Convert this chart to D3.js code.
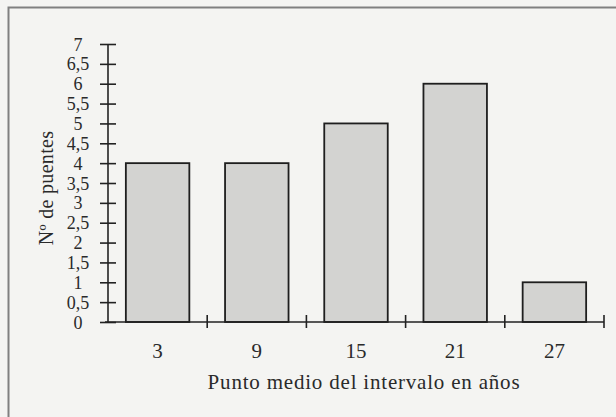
<!DOCTYPE html>
<html><head><meta charset="utf-8">
<script src="https://cdn.jsdelivr.net/npm/d3@7"></script>
<style>
html,body{margin:0;padding:0;background:#f4f4f2;}
svg{display:block;}
text{font-family:"Liberation Serif","DejaVu Serif",serif;fill:#2a2a2a;}
</style></head>
<body>
<svg id="c" width="616" height="417"></svg>
<script>
const categories = ["3","9","15","21","27"];
const values = [4,4,5,6,1];
const yTicks = [0,0.5,1,1.5,2,2.5,3,3.5,4,4.5,5,5.5,6,6.5,7];
const xTitle = "Punto medio del intervalo en años";
const yTitle = "Nº de puentes";

const svg = d3.select("#c");
// frame
svg.append("path").attr("d","M8.5,417 L8.5,7.5 L616,7.5")
  .attr("fill","none").attr("stroke","#808080").attr("stroke-width",2);

const x = d3.scaleBand().domain(categories).range([108,604]).paddingInner(0.36).paddingOuter(0.18);
const y = d3.scaleLinear().domain([0,7]).range([322,44]);

// bars
svg.selectAll("rect.bar").data(values).enter().append("rect")
  .attr("class","bar")
  .attr("x",(d,i)=>x(categories[i]))
  .attr("width",x.bandwidth())
  .attr("y",d=>y(d))
  .attr("height",d=>y(0)-y(d))
  .attr("fill","#d3d3d1").attr("stroke","#1e1e1e").attr("stroke-width",1.8);

// y axis
const fmt = d=>String(d).replace(".",",");
const ya = svg.append("g").attr("transform","translate(108,0)")
  .call(d3.axisLeft(y).tickValues(yTicks).tickFormat(fmt).tickSize(8).tickPadding(5));
ya.select(".domain").attr("stroke","#222").attr("stroke-width",1.6).attr("d","M0,"+y(7)+"V"+(y(0)+1));
ya.selectAll(".tick line").attr("x1",8).attr("stroke","#222").attr("stroke-width",1.6);
ya.selectAll(".tick text").attr("font-size",18).attr("font-family","Liberation Serif")
  .attr("fill","#2a2a2a").attr("dy","0.34em").attr("x",-30).attr("text-anchor","middle");

// x axis
const step = x.step();
const bounds = [x.range()[0]].concat(categories.map(c=>x(c)+x.bandwidth()+step*x.paddingInner()/2));
const xa = svg.append("g");
xa.append("line").attr("x1",105).attr("x2",604).attr("y1",y(0)).attr("y2",y(0))
  .attr("stroke","#222").attr("stroke-width",1.6);
xa.selectAll("line.t").data(bounds.slice(1)).enter().append("line").attr("class","t")
  .attr("x1",d=>d).attr("x2",d=>d).attr("y1",y(0)-7).attr("y2",y(0)+6)
  .attr("stroke","#222").attr("stroke-width",1.6);
xa.selectAll("text.xl").data(categories).enter().append("text").attr("class","xl")
  .attr("x",d=>x(d)+x.bandwidth()/2).attr("y",358)
  .attr("text-anchor","middle").attr("font-size",21).text(d=>d);

svg.append("text").attr("x",364).attr("y",389).attr("text-anchor","middle")
  .attr("font-size",21).attr("letter-spacing","0.8px").text(xTitle);
svg.append("text").attr("transform","translate(53,188) rotate(-90)")
  .attr("text-anchor","middle").attr("font-size",20).attr("letter-spacing","0.3px").text(yTitle);
</script>
</body></html>
